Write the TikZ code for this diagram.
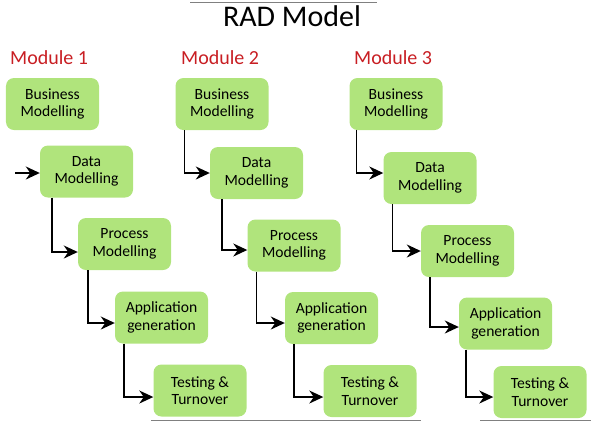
\documentclass[tikz,border=0pt]{standalone}
\usepackage{fontspec}
\setmainfont{Carlito}
\usetikzlibrary{arrows.meta}
\definecolor{boxgreen}{HTML}{B0E47C}
\definecolor{modred}{RGB}{200,30,35}
\tikzset{
  phase/.style={rectangle, rounded corners=8bp, fill=boxgreen,
    minimum width=93bp, minimum height=52bp, inner sep=0pt,
    align=center, font=\fontsize{15.6bp}{17.5bp}\selectfont},
  modlabel/.style={anchor=base west, inner sep=0pt, text=modred,
    font=\fontsize{20bp}{24bp}\selectfont},
  flow/.style={line width=1.5bp, -{Stealth[length=14bp,width=13bp,inset=4.5bp]}},
  edgeline/.style={draw=gray, line width=1bp}
}
\begin{document}
\begin{tikzpicture}[x=1bp, y=-1bp]
\useasboundingbox (0,0) rectangle (591,422);

% title and frame edges
\node[anchor=base, inner sep=0pt, font=\fontsize{30bp}{36bp}\selectfont] (title) at (292,26) {RAD Model};
\coordinate (tl) at (190,2.5);
\coordinate (tr) at (377,2.5);
\draw[edgeline] (tl) -- (tr);
\coordinate (bl1) at (151,420.5);
\coordinate (br1) at (421,420.5);
\coordinate (bl2) at (480,420.5);
\coordinate (br2) at (591,420.5);
\draw[edgeline] (bl1) -- (br1);
\draw[edgeline] (bl2) -- (br2);

% module headings
\node[modlabel] (m1) at (10,64) {Module 1};
\node[modlabel] (m2) at (181,64) {Module 2};
\node[modlabel] (m3) at (354,64) {Module 3};

% module 1
\node[phase] (b1) at (52.5,104)   {Business\\Modelling};
\node[phase] (d1) at (86.5,171.5) {Data\\Modelling};
\node[phase] (p1) at (124.5,244)  {Process\\Modelling};
\node[phase] (a1) at (161.5,317.5){Application\\generation};
\node[phase] (t1) at (200,390.5)  {Testing \&\\Turnover};

% module 2
\node[phase] (b2) at (222,104)    {Business\\Modelling};
\node[phase] (d2) at (256.5,173)  {Data\\Modelling};
\node[phase] (p2) at (294,245.5)  {Process\\Modelling};
\node[phase] (a2) at (331.5,318)  {Application\\generation};
\node[phase] (t2) at (370,391)    {Testing \&\\Turnover};

% module 3
\node[phase] (b3) at (396,104)    {Business\\Modelling};
\node[phase] (d3) at (430,178)    {Data\\Modelling};
\node[phase] (p3) at (467.5,251)  {Process\\Modelling};
\node[phase] (a3) at (505.5,323.5){Application\\generation};
\node[phase] (t3) at (540,392)    {Testing \&\\Turnover};

% module 1 flow
\coordinate (in1) at (15,173);
\draw[flow] (in1) -- ([yshift=-1.5bp]d1.west);
\draw[flow] ([xshift=12bp]d1.south west) |- ([yshift=-8bp]p1.west);
\draw[flow] ([xshift=10bp]p1.south west) |- ([yshift=-5.5bp]a1.west);
\draw[flow] ([xshift=9bp]a1.south west) |- ([yshift=-6.5bp]t1.west);

% module 2 flow
\draw[flow] ([xshift=9bp]b2.south west) |- (d2.west);
\draw[flow] ([xshift=12bp]d2.south west) |- ([yshift=-4.5bp]p2.west);
\draw[flow] ([xshift=9bp]p2.south west) |- ([yshift=-5bp]a2.west);
\draw[flow] ([xshift=9bp]a2.south west) |- ([yshift=-6bp]t2.west);

% module 3 flow
\draw[flow] ([xshift=7bp]b3.south west) |- ([yshift=5bp]d3.west);
\draw[flow] ([xshift=9bp]d3.south west) |- (p3.west);
\draw[flow] ([xshift=9bp]p3.south west) |- ([yshift=-3.5bp]a3.west);
\draw[flow] ([xshift=7bp]a3.south west) |- ([yshift=-5bp]t3.west);
\end{tikzpicture}
\end{document}
